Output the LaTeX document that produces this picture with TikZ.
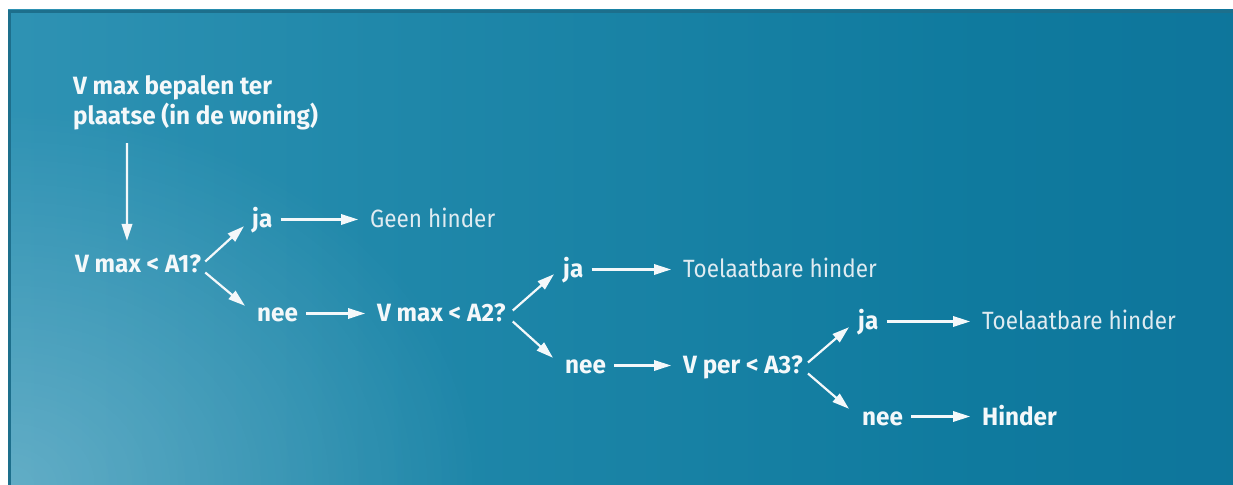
\documentclass[tikz,border=0pt]{standalone}
\usepackage{fontspec}
\setmainfont[FakeStretch=0.9, BoldFeatures={FakeStretch=0.97}]{Fira Sans}
\usetikzlibrary{arrows.meta,fadings}
\definecolor{txt}{HTML}{F4F8FA}
\definecolor{txtl}{HTML}{DFEBF1}
\definecolor{edge}{HTML}{1D6F8C}
\definecolor{bgA}{HTML}{4BA2C2}
\definecolor{bgB}{HTML}{3899BA}
\definecolor{bgC}{HTML}{2088AA}
\definecolor{bgD}{HTML}{0F7A9E}
\definecolor{bgE}{HTML}{0A6A95}
\pgfdeclarehorizontalshading{bgshade}{100bp}{%
  color(0bp)=(bgA);
  color(15bp)=(bgB);
  color(40bp)=(bgC);
  color(65bp)=(bgD);
  color(100bp)=(bgE)}
\tikzfading[name=glow, inner color=transparent!0, outer color=transparent!100]
\tikzset{
  lbl/.style={anchor=base west, inner sep=0pt, text height=17bp, text depth=0bp,
              font=\fontsize{25bp}{30bp}\selectfont\bfseries, text=txt},
  res/.style={lbl, font=\fontsize{25bp}{30bp}\selectfont, text=txtl},
  arr/.style={draw=txt, line width=2.2bp, -{Triangle[length=17bp,width=10.5bp]}},
  harr/.style={arr, shorten <=8bp, shorten >=12bp},
}
\begin{document}
\begin{tikzpicture}[x=1bp,y=-1bp]
\useasboundingbox (0,0) rectangle (1233,485);
\fill[white] (0,0) rectangle (1233,485);
\shade[shading=bgshade] (8,10) rectangle (1233,485);
\begin{scope}
  \clip (8,10) rectangle (1233,485);
  \fill[white, opacity=0.25, path fading=glow] (8,485) ellipse [x radius=480, y radius=380];
\end{scope}
\draw[edge, line width=3bp] (9.5,485) -- (9.5,11.5) -- (1233,11.5);

% texts
\node[lbl] (t1) at (73,95) {V max bepalen ter};
\node[lbl] (t2) at (73,125) {plaatse (in de woning)};
\node[lbl] (q1) at (75,273) {V max < A1?};
\node[lbl] (ja1) at (252,228) {ja};
\node[res] (r1) at (370,228) {Geen hinder};
\node[lbl] (nee1) at (257,322) {nee};
\node[lbl] (q2) at (377,322) {V max < A2?};
\node[lbl] (ja2) at (563,278) {ja};
\node[res] (r2) at (683,278) {Toelaatbare hinder};
\node[lbl] (nee2) at (565,374) {nee};
\node[lbl] (q3) at (683,374) {V per < A3?};
\node[lbl] (ja3) at (858,330) {ja};
\node[res] (r3) at (982,330) {Toelaatbare hinder};
\node[lbl] (nee3) at (862,425) {nee};
\node[lbl] (r4) at (982,425) {Hinder};

% connectors
\draw[arr] ([xshift=54bp,yshift=-18bp]t2.south west) -- ([xshift=52bp,yshift=15bp]q1.north west);

\draw[arr] ([xshift=4bp,yshift=3bp]q1.east) -- ([xshift=-8bp,yshift=2bp]ja1.south west);
\draw[arr] ([xshift=4bp,yshift=-8bp]q1.east) -- ([xshift=-12bp,yshift=-1bp]nee1.north west);
\draw[arr] ([xshift=7bp,yshift=3bp]q2.east) -- ([xshift=-9bp,yshift=4bp]ja2.south west);
\draw[arr] ([xshift=7bp,yshift=-8bp]q2.east) -- ([xshift=-12bp,yshift=-1bp]nee2.north west);
\draw[arr] ([xshift=5bp,yshift=3bp]q3.east) -- ([xshift=-9bp,yshift=3bp]ja3.south west);
\draw[arr] ([xshift=5bp,yshift=-8bp]q3.east) -- ([xshift=-13bp,yshift=-1bp]nee3.north west);

\draw[harr] (ja1) -- (r1);
\draw[harr] (nee1) -- (q2);
\draw[harr] (ja2) -- (r2);
\draw[harr] (nee2) -- (q3);
\draw[harr] (ja3) -- (r3);
\draw[harr] (nee3) -- (r4);
\end{tikzpicture}
\end{document}
